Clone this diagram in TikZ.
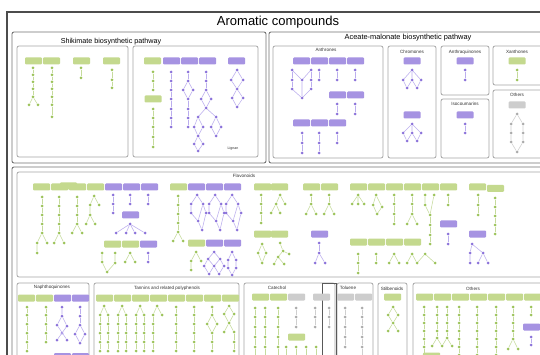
\documentclass[tikz,border=0pt]{standalone}
\usepackage{fontspec}
\setmainfont{Liberation Sans}
\definecolor{gbarc}{HTML}{C4D98E}
\definecolor{pbarc}{HTML}{A693E2}
\definecolor{ybarc}{HTML}{CDCDCD}
\definecolor{gdotc}{HTML}{9CC35A}
\definecolor{pdotc}{HTML}{8B72DA}
\definecolor{ydotc}{HTML}{ABABAB}
\definecolor{glinec}{HTML}{C6DB9C}
\definecolor{plinec}{HTML}{BBAEEE}
\definecolor{ylinec}{HTML}{CFCFCF}
\tikzset{
 barbase/.style={rounded corners=1pt,minimum width=17pt,minimum height=7pt,inner sep=0pt,draw=none},
 gb/.style={barbase,fill=gbarc},
 pb/.style={barbase,fill=pbarc},
 yb/.style={barbase,fill=ybarc},
 dotbase/.style={circle,inner sep=0pt,minimum size=3pt,draw=none},
 gd/.style={dotbase,fill=gdotc},
 pd/.style={dotbase,fill=pdotc},
 yd/.style={dotbase,fill=ydotc},
 gl/.style={draw=glinec,line width=0.55pt},
 pl/.style={draw=plinec,line width=0.55pt},
 yl/.style={draw=ylinec,line width=0.55pt},
 outerf/.style={draw=black!70,line width=1.4pt},
 secf/.style={draw=black!55,line width=0.9pt,rounded corners=2pt},
 subf/.style={draw=black!35,line width=0.8pt,rounded corners=2pt},
 catf/.style={draw=black!65,line width=0.8pt},
 lab/.style={font=\fontsize{4.6}{5}\selectfont,inner sep=0pt,text=black!80},
}
\newcommand\chain[4]{%
  \foreach \yy [count=\ci, remember=\ci as \cj (initially 0)] in {#4}{%
    \node[#2d] (#1-\ci) at (#3,\yy) {};%
    \ifnum\cj>0 \draw[#2l] (#1-\cj) -- (#1-\ci);\fi
  }%
}
\newcommand\bars[3]{%
  \foreach \st/\xx [count=\bi] in {#3}{\node[\st] (#1-\bi) at (\xx+8.5,#2) {};}%
}
\newcommand\dt[3]{\node[#1d] (#2) at (#3) {};}
\newcommand\cn[2]{\draw[#1l] #2;}
\newcommand\dbl[2]{%
 \dt{p}{#1a}{#2,195}\dt{p}{#1b}{#2-6,204}\dt{p}{#1c}{#2+6,204}
 \dt{p}{#1d}{#2-6,213}\dt{p}{#1e}{#2+1,221}\dt{p}{#1f}{#2+9,213}\dt{p}{#1g}{#2+5,230}
 \cn{p}{(#1a)--(#1b) (#1a)--(#1c) (#1b)--(#1d) (#1d)--(#1e) (#1c)--(#1e) (#1c)--(#1f) (#1f)--(#1g) (#1e)--(#1g)}}
\newcommand\ttree[2]{%
 \dt{g}{#1t}{#2,306}
 \chain{#1l}{g}{#2-4}{315,324,333,342,351}
 \chain{#1r}{g}{#2+4}{315,324,333,342,351}
 \cn{g}{(#1t)--(#1l-1) (#1t)--(#1r-1)}}
\begin{document}
\begin{tikzpicture}[x=1pt,y=-1pt]
\useasboundingbox (0,0) rectangle (540,355);
\fill[white] (0,0) rectangle (540,355);
\begin{scope}
\clip (0,0) rectangle (540,355);
% frames
\draw[outerf] (7,12) rectangle (600,400);
\draw[secf] (12,32) rectangle (266,163);
\draw[secf] (269,32) rectangle (600,163);
\draw[secf] (12,167) rectangle (600,400);
\draw[subf] (17,46) rectangle (128,157);
\draw[subf] (133,46) rectangle (258,157);
\draw[subf] (273,46) rectangle (383,158);
\draw[subf] (388,46) rectangle (436,158);
\draw[subf] (441,46) rectangle (489,95);
\draw[subf] (441,99) rectangle (489,158);
\draw[subf] (493,46) rectangle (600,85);
\draw[subf] (493,90) rectangle (600,158);
\draw[subf] (17,172) rectangle (600,277);
\draw[subf] (17,283) rectangle (89,400);
\draw[subf] (94,283) rectangle (239,400);
\draw[subf] (244,283) rectangle (335,400);
\draw[subf] (337,283) rectangle (373,400);
\draw[subf] (378,283) rectangle (407,400);
\draw[subf] (413,283) rectangle (600,400);
\draw[catf] (322,283) rectangle (336,400);
% titles
\node[font=\fontsize{13}{15}\selectfont,inner sep=0pt] (title) at (278,22.5) {Aromatic compounds};
\node[font=\fontsize{7.2}{8}\selectfont,inner sep=0pt] (tshik) at (111,42) {Shikimate biosynthetic pathway};
\node[font=\fontsize{7.4}{8}\selectfont,inner sep=0pt] (tacet) at (408,38) {Aceate-malonate biosynthetic pathway};
\node[lab] (lanthr) at (326,50) {Anthrones};
\node[lab] (lchrom) at (412,52) {Chromones};
\node[lab] (lanthq) at (465,52) {Anthraquinones};
\node[lab] (lisoc) at (465,104) {Isocoumarins};
\node[lab] (lxan) at (517,52) {Xanthones};
\node[lab] (lothA) at (517,95) {Others};
\node[lab] (lflav) at (244,176) {Flavonoids};
\node[lab,font=\fontsize{3.6}{4}\selectfont] (llig) at (233,149) {Lignan};
\node[lab] (lnaph) at (52,287) {Naphthoquinones};
\node[lab] (ltann) at (167,288) {Tannins and related polyphenols};
\node[lab] (lcat) at (277,288) {Catechol};
\node[lab] (ltol) at (348,288) {Toluene};
\node[lab] (lstil) at (392,289) {Stilbenoids};
\node[lab] (lothB) at (473,289) {Others};
% ---- Shikimate box 1
\bars{s1}{61}{gb/25,gb/43,gb/73,gb/103}
\chain{sa}{g}{33}{68,75,82,89,97}
\dt{g}{sa6}{29,105}\dt{g}{sa7}{38,105}
\cn{g}{(sa-5)--(sa6) (sa-5)--(sa7)}
\chain{sb}{g}{52}{68,75,82,89,97,105,117}
\chain{sc}{g}{81}{68,78}
\chain{sd}{g}{112}{70,80,88}
% ---- Shikimate box 2
\bars{s2}{61}{gb/144,pb/163,pb/181,pb/199,pb/228}
\node[gb] (s2x) at (153,99) {};
\chain{se}{g}{153}{72,81,90}
\chain{sf}{g}{153}{109,118,127,137,147}
\chain{sg}{p}{171}{72,81,90,99,109,118,127}
\chain{sh}{p}{188}{72,81}
\dt{p}{sh3}{183,90}\dt{p}{sh4}{193,90}
\chain{si}{p}{188}{99,109,118,127}
\cn{p}{(sh-2)--(sh3) (sh-2)--(sh4) (sh3)--(si-1) (sh4)--(si-1)}
\chain{sj}{p}{206}{72,81,90}
\dt{p}{sj4}{201,99}\dt{p}{sj5}{211,99}\dt{p}{sj6}{206,108}
\dt{p}{sj7}{198,117}\dt{p}{sj8}{216,117}
\dt{p}{sj9}{194,127}\dt{p}{sj10}{203,127}\dt{p}{sj11}{211,127}\dt{p}{sj12}{221,127}
\dt{p}{sj13}{198,136}\dt{p}{sj14}{216,136}
\dt{p}{sj15}{194,144}\dt{p}{sj16}{203,144}\dt{p}{sj17}{198,151}
\cn{p}{(sj-3)--(sj4) (sj-3)--(sj5) (sj4)--(sj6) (sj5)--(sj6) (sj6)--(sj7) (sj6)--(sj8) (sj7)--(sj9) (sj7)--(sj10) (sj8)--(sj11) (sj8)--(sj12) (sj9)--(sj13) (sj10)--(sj13) (sj11)--(sj14) (sj12)--(sj14) (sj13)--(sj15) (sj13)--(sj16) (sj15)--(sj17) (sj16)--(sj17)}
\dt{p}{sk1}{237,70}\dt{p}{sk2}{231,80}\dt{p}{sk3}{243,80}\dt{p}{sk4}{237,89}\dt{p}{sk5}{232,98}\dt{p}{sk6}{243,98}\dt{p}{sk7}{237,107}
\cn{p}{(sk1)--(sk2) (sk1)--(sk3) (sk2)--(sk4) (sk3)--(sk4) (sk4)--(sk5) (sk4)--(sk6) (sk5)--(sk7) (sk6)--(sk7)}
% ---- Anthrones
\bars{an1}{61}{pb/293,pb/311,pb/329,pb/347}
\chain{ana}{p}{292}{70,80,89}
\chain{anb}{p}{311}{70,80,89}
\dt{p}{anc}{302,80}\dt{p}{and}{302,98}
\cn{p}{(ana-1)--(anc) (anb-1)--(anc) (anc)--(and) (ana-3)--(and) (anb-3)--(and)}
\chain{ane}{p}{319}{70,80}
\chain{anf}{p}{337}{70,80}
\chain{ang}{p}{355}{70,80}
\bars{an2}{95}{pb/329,pb/347}
\chain{anh}{p}{337}{104,114}
\chain{ani}{p}{355}{104,114}
\bars{an3}{123}{pb/293,pb/311,pb/329}
\chain{anj}{p}{302}{133,143,153}
\chain{ank}{p}{319}{133,143,153}
\chain{anl}{p}{337}{133,143}
% ---- Chromones
\node[pb] (ch1) at (412,61) {};
\dt{p}{c1}{412,70}\dt{p}{c2}{412,80}\dt{p}{c3}{403,80}\dt{p}{c4}{421,80}\dt{p}{c5}{407,88}\dt{p}{c6}{417,88}
\cn{p}{(c1)--(c2) (c1)--(c3) (c1)--(c4) (c2)--(c5) (c2)--(c6) (c3)--(c5) (c4)--(c6)}
\node[pb] (ch2) at (412,115) {};
\dt{p}{d1}{412,124}\dt{p}{d2}{412,133}\dt{p}{d3}{403,133}\dt{p}{d4}{421,133}\dt{p}{d5}{407,141}\dt{p}{d6}{417,141}
\cn{p}{(d1)--(d2) (d1)--(d3) (d1)--(d4) (d2)--(d5) (d2)--(d6) (d3)--(d5) (d4)--(d6)}
% ---- Anthraquinones, Isocoumarins, Xanthones, Others
\node[pb] (aq) at (465,61) {};
\chain{aqc}{p}{465}{70,80}
\node[pb] (ic) at (465,115) {};
\chain{icc}{p}{465}{124,133}
\node[gb] (xa) at (517,61) {};
\chain{xac}{g}{517}{70,80}
\node[yb] (ot) at (517,105) {};
\dt{y}{o1}{517,114}\dt{y}{o2}{511,124}\dt{y}{o3}{511,133}\dt{y}{o4}{511,142}
\dt{y}{o5}{523,124}\dt{y}{o6}{523,133}\dt{y}{o7}{523,142}\dt{y}{o8}{517,152}
\cn{y}{(o1)--(o2) (o1)--(o5) (o2)--(o3) (o3)--(o4) (o4)--(o8) (o5)--(o6) (o6)--(o7) (o7)--(o8)}
% ---- Flavonoids
\bars{fa}{187}{gb/33,gb/51}
\node[gb] (fax) at (68.5,185.8) {};
\bars{fb}{187}{gb/69,gb/87,pb/105,pb/123,pb/141}
\chain{k1}{g}{42}{197,206,215,224,233}
\dt{g}{k1a}{37,243}\dt{g}{k1b}{47,243}\dt{g}{k1c}{37,253}
\cn{g}{(k1-5)--(k1a) (k1-5)--(k1b) (k1a)--(k1c)}
\chain{k2}{g}{59}{197,206,215,224,233}
\dt{g}{k2a}{54,243}\dt{g}{k2b}{64,243}
\cn{g}{(k2-5)--(k2a) (k2-5)--(k2b)}
\chain{k3}{g}{77}{197,206,215,224}
\dt{g}{k3a}{72,233}\dt{g}{k3b}{82,233}
\cn{g}{(k3-4)--(k3a) (k3-4)--(k3b)}
\dt{g}{k4a}{94,196}\dt{g}{k4b}{90,205}\dt{g}{k4c}{99,205}\dt{g}{k4d}{90,215}\dt{g}{k4f}{86,224}\dt{g}{k4g}{95,224}
\cn{g}{(k4a)--(k4b) (k4a)--(k4c) (k4b)--(k4d) (k4d)--(k4f) (k4d)--(k4g)}
\chain{k5}{p}{113}{195,204,213}
\chain{k6}{p}{130}{195,204}
\chain{k7}{p}{148}{195,204}
\node[pb] (fp1) at (130.5,215) {};
\dt{p}{k8a}{130,224}\dt{p}{k8b}{116,233}\dt{p}{k8c}{126,233}\dt{p}{k8d}{135,233}\dt{p}{k8e}{145,233}
\cn{p}{(k8a)--(k8b) (k8a)--(k8c) (k8a)--(k8d) (k8a)--(k8e)}
\bars{fc}{244}{gb/104,gb/122,pb/140}
\dt{g}{k9a}{102,253}\dt{g}{k9b}{102,262}\dt{g}{k9c}{115,253}\dt{g}{k9e}{115,263}\dt{g}{k9d}{107,272}
\cn{g}{(k9a)--(k9b) (k9b)--(k9d) (k9c)--(k9e) (k9e)--(k9d)}
\dt{g}{k10a}{130,253}\dt{g}{k10b}{125,262}\dt{g}{k10c}{135,262}
\cn{g}{(k10a)--(k10b) (k10a)--(k10c)}
\chain{k11}{p}{148}{253,262}
\bars{fd}{187}{gb/170,pb/188,pb/206,pb/224}
\chain{k12}{g}{178}{196,205,214,223,232}
\dt{g}{k12a}{173,241}\dt{g}{k12b}{183,241}
\cn{g}{(k12-5)--(k12a) (k12-5)--(k12b)}
\dbl{ma}{197}\dbl{mb}{215}\dbl{mc}{232}
\bars{fe}{243}{gb/188,pb/206,pb/224}
\dt{g}{k13a}{196,252}\dt{g}{k13b}{191,261}\dt{g}{k13c}{201,261}\dt{g}{k13d}{191,270}
\cn{g}{(k13a)--(k13b) (k13a)--(k13c) (k13b)--(k13d)}
\dt{p}{q1}{214,252}\dt{p}{q2}{208,259}\dt{p}{q3}{220,259}\dt{p}{q4}{204,266}\dt{p}{q5}{214,266}\dt{p}{q6}{224,266}\dt{p}{q7}{209,274}\dt{p}{q8}{219,274}
\cn{p}{(q1)--(q2) (q1)--(q3) (q2)--(q4) (q2)--(q5) (q3)--(q5) (q3)--(q6) (q4)--(q7) (q5)--(q7) (q5)--(q8) (q6)--(q8)}
\dt{p}{r1}{232,252}\dt{p}{r2}{228,260}\dt{p}{r3}{236,260}\dt{p}{r4}{228,268}\dt{p}{r5}{236,268}\dt{p}{r6}{232,275}
\cn{p}{(r1)--(r2) (r1)--(r3) (r2)--(r4) (r3)--(r5) (r4)--(r6) (r5)--(r6)}
% right part row 1
\bars{fg}{187}{gb/254,gb/271}
\chain{k16}{g}{261}{195,204,213,223}
\dt{g}{t1}{280,195}\dt{g}{t2}{276,204}\dt{g}{t3}{285,204}\dt{g}{t4}{271,213}\dt{g}{t5}{280,213}
\cn{g}{(t1)--(t2) (t1)--(t3) (t2)--(t4) (t2)--(t5)}
\bars{fh}{187}{gb/303,gb/321}
\chain{k18}{g}{311}{195,204}
\dt{g}{k18a}{306,214}\dt{g}{k18b}{316,214}
\cn{g}{(k18-2)--(k18a) (k18-2)--(k18b)}
\chain{k19}{g}{329}{195,204}
\dt{g}{k19a}{324,214}\dt{g}{k19b}{334,214}
\cn{g}{(k19-2)--(k19a) (k19-2)--(k19b)}
\bars{fi}{187}{gb/350,gb/368,gb/386,gb/404,gb/422,gb/440}
\dt{g}{w1}{358,195}\dt{g}{w2}{352,204}\dt{g}{w3}{358,204}\dt{g}{w4}{364,204}
\cn{g}{(w1)--(w2) (w1)--(w3) (w1)--(w4)}
\dt{g}{x1}{376,195}\dt{g}{x2}{373,205}\dt{g}{x3}{377,214}\dt{g}{x4}{382,207}
\cn{g}{(x1)--(x2) (x2)--(x3) (x3)--(x4) (x4)--(x1)}
\chain{k22}{g}{394}{195,204,214,224}
\chain{k23}{g}{412}{195,204,214}
\dt{g}{k23a}{407,224}\dt{g}{k23b}{417,224}
\cn{g}{(k23-3)--(k23a) (k23-3)--(k23b)}
\dt{g}{aa1}{425,195}\dt{g}{aa2}{425,205}\dt{g}{aa3}{434,195}
\chain{ab}{g}{430}{215,225,235,244}
\cn{g}{(aa1)--(aa2) (aa2)--(ab-1) (aa3)--(ab-1)}
\chain{k25}{g}{448}{195,205}
\node[pb] (fp2) at (448.5,224) {};
\chain{k26}{p}{448}{234,244}
\bars{fj}{187}{gb/469}
\node[gb] (fj2) at (495.5,188.3) {};
\chain{k27}{g}{478}{195,205,215}
\chain{k28}{g}{495}{198,207,216,225,234}
\node[pb] (fp3) at (477.5,234) {};
\dt{p}{ag1}{472,244}\dt{p}{ag2}{470,253}\dt{p}{ag3}{470,263}\dt{p}{ag4}{483,253}\dt{p}{ag5}{478,263}\dt{p}{ag6}{488,263}
\cn{p}{(ag1)--(ag2) (ag2)--(ag3) (ag1)--(ag4) (ag4)--(ag5) (ag4)--(ag6)}
% right part row 2
\bars{fk}{234}{gb/254,gb/271}
\dt{g}{k31a}{262,244}\dt{g}{k31b}{258,253}\dt{g}{k31c}{266,253}\dt{g}{k31d}{262,263}
\cn{g}{(k31a)--(k31b) (k31a)--(k31c) (k31b)--(k31d) (k31c)--(k31d)}
\dt{g}{bb1}{280,243}\dt{g}{bb2}{283,251}\dt{g}{bb3}{278,257}\dt{g}{bb4}{289,254}\dt{g}{bb5}{274,264}\dt{g}{bb6}{284,264}
\cn{g}{(bb1)--(bb2) (bb2)--(bb3) (bb2)--(bb4) (bb3)--(bb5) (bb3)--(bb6)}
\node[pb] (fp4) at (319.5,234) {};
\chain{k32}{p}{319}{243,253}
\dt{p}{k32a}{315,263}\dt{p}{k32b}{325,263}
\cn{p}{(k32-2)--(k32a) (k32-2)--(k32b)}
\bars{fl}{242}{gb/350,gb/368,gb/386,gb/404}
\chain{k33}{g}{358}{254,263,273}
\chain{k34}{g}{376}{254,263}
\dt{g}{k35a}{394,254}\dt{g}{k35b}{389,263}\dt{g}{k35c}{399,263}
\cn{g}{(k35a)--(k35b) (k35a)--(k35c)}
\dt{g}{k36a}{412,254}\dt{g}{k36b}{407,263}\dt{g}{k36c}{417,263}
\dt{g}{k37a}{425,254}\dt{g}{k37c}{435,263}
\cn{g}{(k36a)--(k36b) (k36a)--(k36c) (k37a)--(k36c) (k37a)--(k37c)}
% ---- Naphthoquinones
\bars{nq}{298}{gb/18,gb/36,pb/54,pb/72}
\chain{na}{g}{27}{307,315,324,333,342,351}
\chain{nb}{g}{46}{307,315,324,333,342}
\dt{p}{nc1}{62,307}\dt{p}{nc2}{62,316}\dt{p}{nc3}{67,326}\dt{p}{nc4}{62,333}\dt{p}{nc5}{57,340}\dt{p}{nc6}{67,340}\dt{p}{nc7}{57,325}
\cn{p}{(nc1)--(nc2) (nc2)--(nc3) (nc2)--(nc7) (nc7)--(nc6) (nc3)--(nc5)}
\chain{nd}{p}{80}{307,316,325}
\dt{p}{nd4}{75,334}\dt{p}{nd5}{85,334}\dt{p}{nd6}{80,343}
\cn{p}{(nd-3)--(nd4) (nd-3)--(nd5) (nd4)--(nd6) (nd5)--(nd6)}
\bars{nq2}{356.5}{pb/54,pb/72}
% ---- Tannins
\bars{tn}{298}{gb/96,gb/114,gb/132,gb/150,gb/168,gb/186,gb/204,gb/222}
\ttree{ta}{104}\ttree{tb}{122}\ttree{tc}{140}
\dt{g}{td1}{157,306}\dt{g}{td2}{162,315}
\chain{td}{g}{153}{315,324,333,342,351}
\cn{g}{(td1)--(td-1) (td1)--(td2)}
\chain{te}{g}{176}{307,315,324,333,342,351}
\chain{tf}{g}{194}{307,315,324,333,342,351}
\chain{tg}{g}{212}{307,315}
\dt{g}{tg3}{207,324}\dt{g}{tg4}{217,324}
\chain{tgb}{g}{212}{333,342,351}
\cn{g}{(tg-2)--(tg3) (tg-2)--(tg4) (tg3)--(tgb-1) (tg4)--(tgb-1)}
\dt{g}{th1}{229,306}\dt{g}{th2}{224,314}\dt{g}{th3}{234,314}\dt{g}{th4}{229,323}\dt{g}{th5}{224,332}
\chain{thc}{g}{234}{332,342,351}
\cn{g}{(th1)--(th2) (th1)--(th3) (th2)--(th4) (th3)--(th4) (th4)--(th5) (th4)--(thc-1)}
% ---- Catechol
\bars{ca}{297}{gb/252,gb/270,yb/288,yb/313}
\chain{caa}{g}{255}{308,317,327,337,347,357}
\chain{cab}{g}{265}{308,317,327,337,347,357}
\chain{cac}{g}{278}{308,317,327,337,347,357}
\chain{cad}{y}{296}{308,317,327}
\chain{cae}{y}{315}{308,317,327}
\chain{caf}{y}{329}{308,317,327}
\node[gb] (cag) at (296.5,337) {};
\chain{cah}{g}{286}{347,357}
\chain{cai}{g}{296}{347,357}
\chain{caj}{g}{306}{347,357}
\chain{cak}{g}{316}{347,357}
% ---- Toluene
\bars{to}{297}{yb/337,yb/355}
\chain{toa}{y}{345}{308,317,327,337,347}
\chain{tob}{y}{362}{308,317,327,337,347,357}
% ---- Stilbenoids
\node[gb] (stb) at (392.5,297) {};
\dt{g}{sb1}{393,307}\dt{g}{sb2}{388,315}\dt{g}{sb3}{398,315}\dt{g}{sb4}{393,323}\dt{g}{sb5}{388,331}\dt{g}{sb6}{398,331}
\cn{g}{(sb1)--(sb2) (sb1)--(sb3) (sb2)--(sb4) (sb3)--(sb4) (sb4)--(sb5) (sb4)--(sb6)}
% ---- Others (bottom)
\bars{ob}{297}{gb/416,gb/434,gb/452,gb/470,gb/488,gb/506,gb/524}
\chain{oa}{g}{424}{307,315,323,331,339,347,355}
\chain{obb}{g}{437}{307,315,323,331,338}
\chain{oc}{g}{447}{307,315,323,331,338}
\dt{g}{oe1}{432,346}\dt{g}{oe2}{442,346}\dt{g}{oe3}{452,346}
\cn{g}{(obb-5)--(oe1) (obb-5)--(oe2) (oc-5)--(oe2) (oc-5)--(oe3)}
\chain{of}{g}{459}{307,315,323,331,339,347,355}
\chain{og}{g}{477}{307,315,323,331,339,347,355}
\chain{oh}{g}{496}{307,315,323,331,339,347,355}
\chain{oi}{g}{513}{307,315,323,331,339}
\dt{g}{oi6}{508,349}\dt{g}{oi7}{518,349}
\cn{g}{(oi-5)--(oi6) (oi-5)--(oi7)}
\chain{oj}{g}{531}{307,315}
\node[pb] (opb) at (531.5,327) {};
\chain{ok}{p}{531}{337,345}
\node[gb] (ogb) at (431.5,356) {};
\end{scope}
\end{tikzpicture}
\end{document}
